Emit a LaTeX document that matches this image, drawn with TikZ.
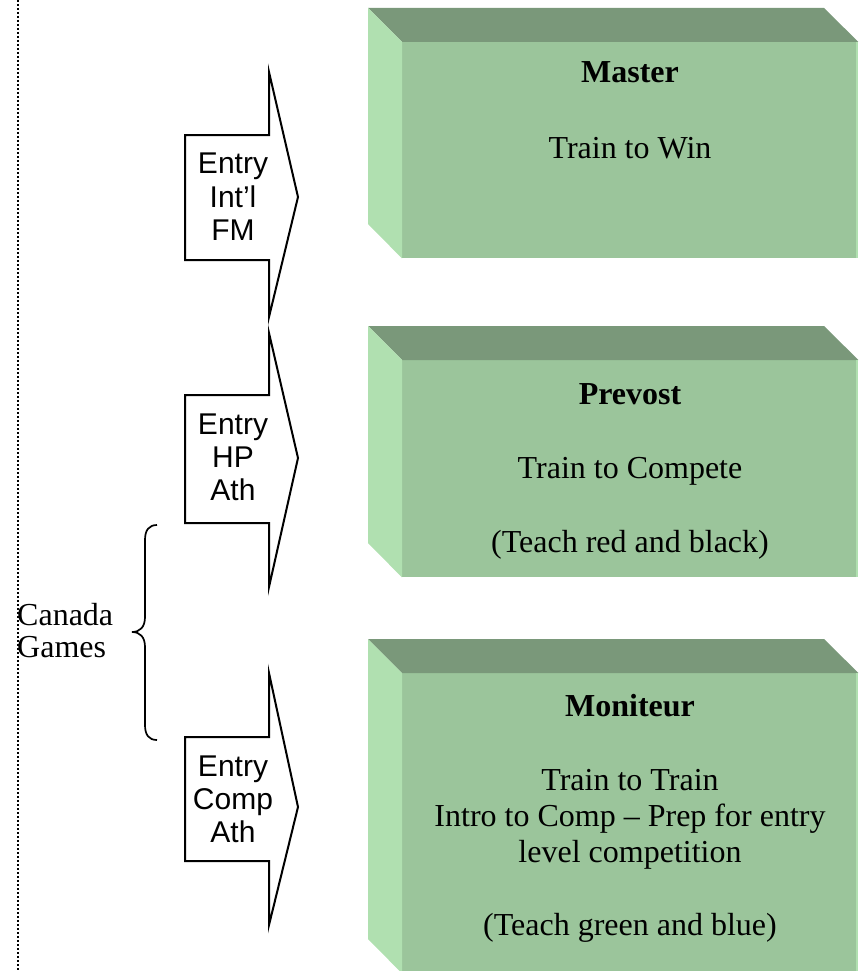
\documentclass[tikz,border=0pt]{standalone}
\usepackage{fontspec}
\setmainfont{Liberation Serif}
\newfontfamily\arialf{Liberation Sans}
\definecolor{frontc}{HTML}{9BC59B}
\definecolor{topc}{HTML}{7A987A}
\definecolor{leftc}{HTML}{B0E0B0}
\begin{document}
\begin{tikzpicture}[x=1pt,y=-1pt,
  frontface/.style={fill=frontc, draw=none, minimum width=456, inner sep=0, anchor=north west},
  boxtext/.style={font=\fontsize{32}{36}\selectfont, anchor=base, inner sep=0},
  boxtitle/.style={boxtext, font=\fontsize{32}{36}\selectfont\bfseries},
  arrtext/.style={font=\arialf\fontsize{30}{33}\selectfont, anchor=base, inner sep=0},
  arrowshape/.style={draw=black, fill=white, line width=2, line join=miter},
  dotline/.style={line width=2, dash pattern=on 2pt off 2pt},
  bracestyle/.style={line width=1.7}]
\useasboundingbox (0,0) rectangle (865,971);
% dotted margin line
\coordinate (dt) at (17.5,0);
\coordinate (db) at (17.5,971);
\draw[dotline] (dt) -- (db);

% ---- boxes ----
\newcommand{\greenbox}[3]{%
  \node[frontface, minimum height=#3] (#1) at (402,#2) {};
  \fill[topc] (#1.north west) -- ++(-34,-34) -- ++(456,0) -- (#1.north east) -- cycle;
  \fill[leftc] (#1.north west) -- ++(-34,-34) -- ++(0,#3) -- (#1.south west) -- cycle;
  \fill[leftc] ([xshift=-2]#1.north east) rectangle (#1.south east);
}
\greenbox{b1}{42}{216}
\greenbox{b2}{360}{217}
\greenbox{b3}{673}{300}

\node[boxtitle] (m1) at (630,83) {Master};
\node[boxtext]  (m2) at (630,158) {Train to Win};

\node[boxtitle] (p1) at (630,404) {Prevost};
\node[boxtext]  (p2) at (630,478) {Train to Compete};
\node[boxtext]  (p3) at (630,552) {(Teach red and black)};

\node[boxtitle] (n1) at (630,716) {Moniteur};
\node[boxtext]  (n2) at (630,790) {Train to Train};
\node[boxtext]  (n3) at (630,826) {Intro to Comp -- Prep for entry};
\node[boxtext]  (n4) at (630,862) {level competition};
\node[boxtext]  (n5) at (630,935) {(Teach green and blue)};

% ---- arrows ----
\draw[arrowshape] (185,135) -- (269,135) -- (269,72) -- (298,197) -- (269,317) -- (269,260) -- (185,260) -- cycle;
\node[arrtext] (a11) at (233,173) {Entry};
\node[arrtext] (a12) at (233,207) {Int’l};
\node[arrtext] (a13) at (233,240) {FM};

\draw[arrowshape] (185,395) -- (269,395) -- (269,333) -- (298,458) -- (269,587) -- (269,523) -- (185,523) -- cycle;
\node[arrtext] (a21) at (233,434) {Entry};
\node[arrtext] (a22) at (233,467) {HP};
\node[arrtext] (a23) at (233,500) {Ath};

\draw[arrowshape] (185,737) -- (269,737) -- (269,673) -- (298,807) -- (269,925) -- (269,861) -- (185,861) -- cycle;
\node[arrtext] (a31) at (233,776) {Entry};
\node[arrtext] (a32) at (233,809) {Comp};
\node[arrtext] (a33) at (233,842) {Ath};

% ---- brace and label ----
\draw[bracestyle] (157,525) .. controls (149,525) and (145,530) .. (145,540) -- (145,617)
  .. controls (145,627) and (140,632) .. (132,632)
  .. controls (140,632) and (145,637) .. (145,647) -- (145,725)
  .. controls (145,735) and (149,740) .. (157,740);
\node[font=\fontsize{32}{36}\selectfont, anchor=base west, inner sep=0] (cg1) at (17,625) {Canada};
\node[font=\fontsize{32}{36}\selectfont, anchor=base west, inner sep=0] (cg2) at (17,657) {Games};
\end{tikzpicture}
\end{document}
